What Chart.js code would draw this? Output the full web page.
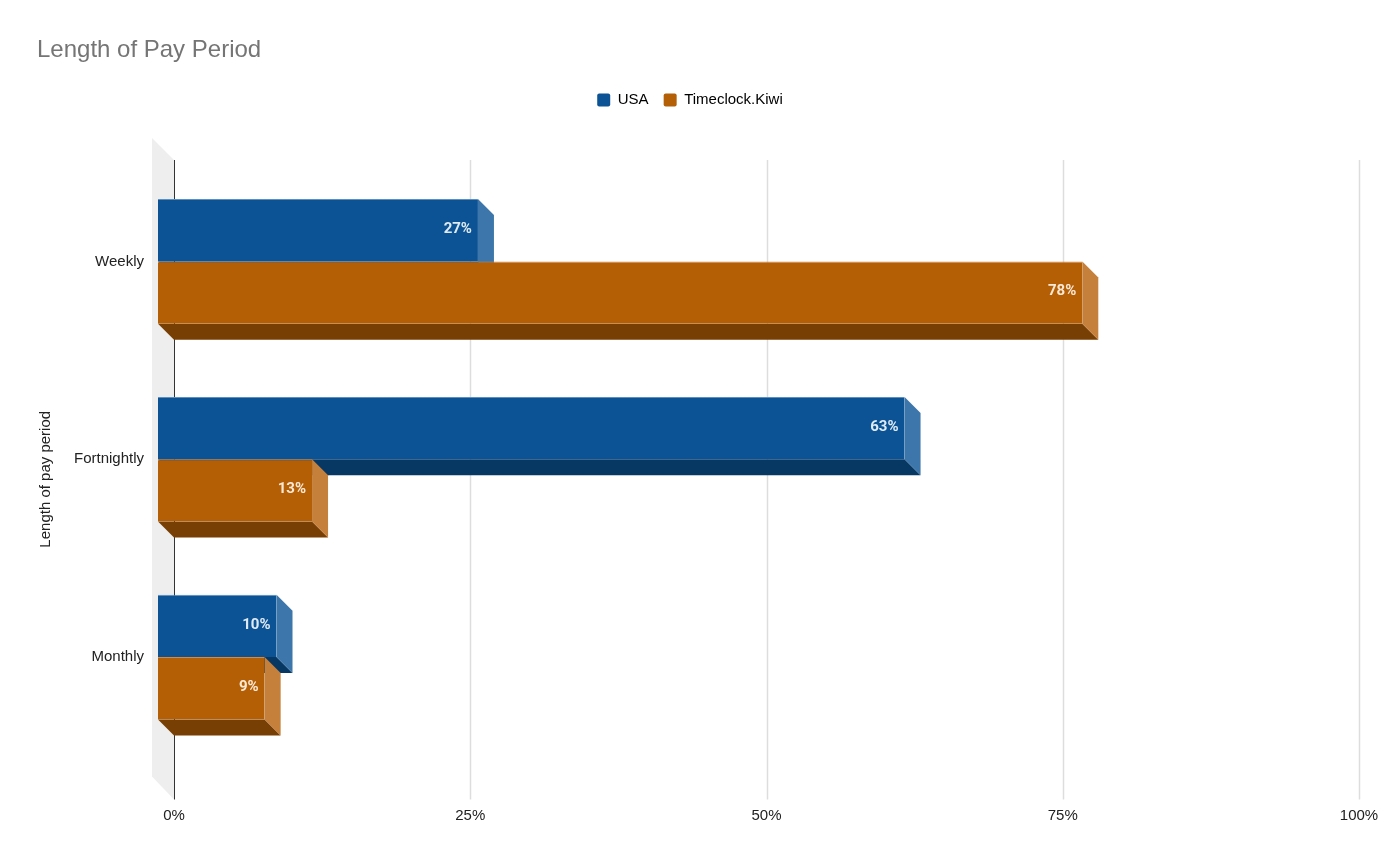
<!DOCTYPE html>
<html>
<head>
<meta charset="utf-8">
<script src="https://cdn.jsdelivr.net/npm/chart.js@4.4.1/dist/chart.umd.min.js"></script>
<style>
  html, body { margin: 0; padding: 0; background: #fff; }
  canvas { display: block; }
</style>
</head>
<body>
<canvas id="payChart" width="1395" height="857"></canvas>
<script>
let periodNames = ["Weekly", "Fortnightly", "Monthly"];
let seriesNames = ["USA", "Timeclock.Kiwi"];
let usaValues = [27, 63, 10];
let kiwiValues = [78, 13, 9];
let xTickValues = [0, 25, 50, 75, 100];

let frontColors = ["#0b5394", "#b45f06"];
let sideColors = ["#3d76ab", "#c5803c"];
let bottomColors = ["#073763", "#783f04"];
let edgeColors = ["#5a8fc2", "#d38b45"];

const DEPTH = 16;
const AXIS_FONT = "'Liberation Sans', Arial";

// draws the grey wall, grid, and the side/bottom faces of each bar
const bars3d = {
  id: 'bars3d',
  beforeDatasetsDraw(chart) {
    let ctx = chart.ctx;
    let area = chart.chartArea;
    let xs = chart.scales.x;
    let gridTop = area.top - 2.5;
    let gridBottom = area.bottom + 43.5;
    let zeroX = xs.getPixelForValue(0) + DEPTH;

    ctx.save();
    // left wall
    ctx.fillStyle = '#eeeeee';
    ctx.beginPath();
    ctx.moveTo(zeroX - 22, gridTop - 22);
    ctx.lineTo(zeroX, gridTop);
    ctx.lineTo(zeroX, gridBottom);
    ctx.lineTo(zeroX - 22, gridBottom - 23);
    ctx.closePath();
    ctx.fill();

    // grid lines on the back plane
    xs.ticks.forEach(function (t) {
      let px = Math.round(xs.getPixelForValue(t.value) + DEPTH) + 0.5;
      ctx.strokeStyle = t.value == 0 ? '#333333' : '#dddddd';
      ctx.lineWidth = t.value == 0 ? 1 : 1.5;
      ctx.beginPath();
      ctx.moveTo(px, gridTop);
      ctx.lineTo(px, gridBottom);
      ctx.stroke();
    });

    // extrusion faces
    for (let i = 0; i < chart.data.datasets.length; i++) {
      let meta = chart.getDatasetMeta(i);
      meta.data.forEach(function (bar) {
        let p = bar.getProps(['x', 'y', 'base', 'height'], true);
        let x0 = p.base, x1 = p.x;
        let top = p.y - p.height / 2, bot = p.y + p.height / 2;

        ctx.fillStyle = bottomColors[i];
        ctx.beginPath();
        ctx.moveTo(x0, bot);
        ctx.lineTo(x1, bot);
        ctx.lineTo(x1 + DEPTH, bot + DEPTH);
        ctx.lineTo(x0 + DEPTH, bot + DEPTH);
        ctx.closePath();
        ctx.fill();

        ctx.fillStyle = sideColors[i];
        ctx.beginPath();
        ctx.moveTo(x1, top);
        ctx.lineTo(x1 + DEPTH, top + DEPTH);
        ctx.lineTo(x1 + DEPTH, bot + DEPTH);
        ctx.lineTo(x1, bot);
        ctx.closePath();
        ctx.fill();
      });
    }
    ctx.restore();
  },
  afterDatasetsDraw(chart) {
    let ctx = chart.ctx;
    let area = chart.chartArea;
    ctx.save();
    ctx.font = 'bold 15px Roboto';
    ctx.textAlign = 'right';
    ctx.textBaseline = 'middle';
    for (let i = 0; i < chart.data.datasets.length; i++) {
      let meta = chart.getDatasetMeta(i);
      let vals = chart.data.datasets[i].data;
      ctx.fillStyle = i == 0 ? 'rgba(235,242,250,0.95)' : 'rgba(255,240,225,0.95)';
      meta.data.forEach(function (bar, j) {
        let p = bar.getProps(['x', 'y'], true);
        ctx.fillText(vals[j] + '%', p.x - 6, p.y - 1);
      });
    }

    // y axis title
    ctx.fillStyle = '#222222';
    ctx.font = '15px ' + AXIS_FONT;
    ctx.textAlign = 'center';
    ctx.translate(46, (area.top + area.bottom) / 2 + 20);
    ctx.rotate(-Math.PI / 2);
    ctx.fillText('Length of pay period', 0, 0);
    ctx.restore();
  }
};

let payChart = new Chart("payChart", {
  type: "bar",
  data: {
    labels: periodNames,
    datasets: [
      {
        label: seriesNames[0],
        data: usaValues,
        backgroundColor: frontColors[0],
        borderColor: edgeColors[0],
        borderWidth: { top: 1, right: 0, bottom: 0, left: 0 },
        borderSkipped: false,
        categoryPercentage: 0.63,
        barPercentage: 1.0
      },
      {
        label: seriesNames[1],
        data: kiwiValues,
        backgroundColor: frontColors[1],
        borderColor: edgeColors[1],
        borderWidth: { top: 1, right: 0, bottom: 0, left: 0 },
        borderSkipped: false,
        categoryPercentage: 0.63,
        barPercentage: 1.0
      }
    ]
  },
  options: {
    indexAxis: 'y',
    responsive: false,
    animation: false,
    layout: { padding: { left: 37, right: 52, top: 0, bottom: 35 } },
    plugins: {
      title: {
        display: true,
        text: 'Length of Pay Period',
        align: 'start',
        color: '#757575',
        font: { family: AXIS_FONT, size: 24, weight: 'normal' },
        padding: { top: 35.6, bottom: 13 }
      },
      subtitle: {
        display: true,
        text: '',
        weight: 500,
        font: { size: 10, lineHeight: 1 },
        padding: { top: 0, bottom: 35 }
      },
      legend: {
        position: 'top',
        align: 'center',
        labels: {
          boxWidth: 13,
          boxHeight: 13,
          padding: 15.1,
          color: '#222222',
          font: { family: AXIS_FONT, size: 15 },
          useBorderRadius: true,
          borderRadius: 2,
          generateLabels: function (chart) {
            return chart.data.datasets.map(function (ds, i) {
              return {
                text: ds.label,
                fillStyle: frontColors[i],
                strokeStyle: frontColors[i],
                lineWidth: 0,
                borderRadius: 2,
                datasetIndex: i
              };
            });
          }
        }
      },
      tooltip: { enabled: false }
    },
    scales: {
      x: {
        type: 'linear',
        min: 0,
        max: 100,
        afterBuildTicks: function (s) {
          s.ticks = xTickValues.map(v => ({ value: v }));
        },
        afterFit: function (s) {
          s.height = 66;
          s.paddingLeft = 0;
          s.paddingRight = 0;
        },
        grid: { display: false, drawTicks: false },
        border: { display: false },
        ticks: {
          labelOffset: DEPTH,
          padding: 51,
          color: '#222222',
          font: { family: AXIS_FONT, size: 15 },
          maxRotation: 0,
          autoSkip: false,
          callback: v => v + '%'
        }
      },
      y: {
        grid: { display: false, drawTicks: false },
        border: { display: false },
        ticks: {
          padding: 14,
          color: '#222222',
          font: { family: AXIS_FONT, size: 15 }
        },
        afterFit: function (s) {
          s.width = 121;
        }
      }
    }
  },
  plugins: [bars3d]
});
</script>
</body>
</html>
